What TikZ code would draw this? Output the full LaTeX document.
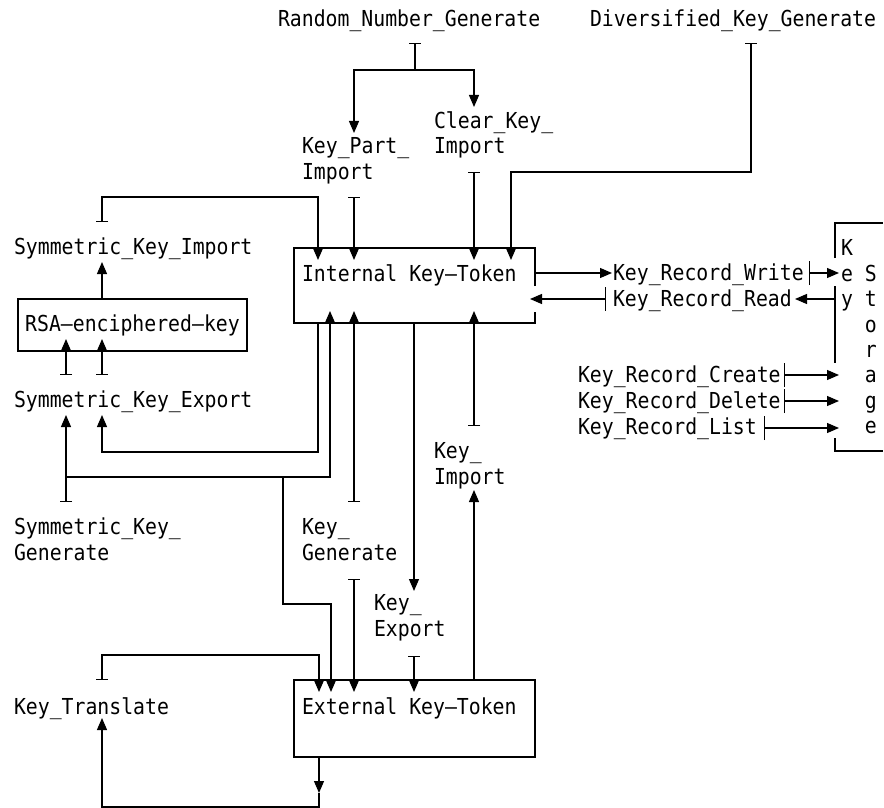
\documentclass[tikz,border=0pt]{standalone}
\usepackage{fontspec}
\setmonofont[FakeStretch=0.9]{DejaVu Sans Mono}
\usetikzlibrary{arrows.meta}

\tikzset{
  every node/.style={inner sep=0pt, outer sep=0pt,
    font=\ttfamily\fontsize{11pt}{12.7pt}\selectfont},
  lbl/.style={anchor=base west, align=left},
  tokenbox/.style={anchor=north west, inner xsep=4pt, text width=112.5pt, align=left},
  rsabox/.style={draw, minimum width=114.5pt, minimum height=26pt},
  vtick/.style={{Bar[width=6pt]}->},
  htick/.style={{Bar[width=12pt]}->},
  into/.style={shorten >=-6pt},
}

\begin{document}
\begin{tikzpicture}[x=.5pt, y=-.5pt, line width=.6pt, >={Triangle[width=5pt,length=6pt]}]
  \useasboundingbox (0,0) rectangle (884,808);
  \clip (0,0) rectangle (884,808);

  % -- services (two-line labels sit on their last line)
  \node[lbl] (rng) at (278,27) {Random\_Number\_Generate};
  \node[lbl] (dkg) at (590,27) {Diversified\_Key\_Generate};
  \node[lbl] (kpi) at (302,179) {Key\_Part\_\\Import};
  \node[lbl] (cki) at (434,154) {Clear\_Key\_\\Import};
  \node[lbl] (ski) at (14,255) {Symmetric\_Key\_Import};
  \node[lbl] (ske) at (14,407) {Symmetric\_Key\_Export};
  \node[lbl] (skg) at (14,560) {Symmetric\_Key\_\\Generate};
  \node[lbl] (kg) at (302,560) {Key\_\\Generate};
  \node[lbl] (ki) at (434,484) {Key\_\\Import};
  \node[lbl] (kx) at (374,636) {Key\_\\Export};
  \node[lbl] (kt) at (14,714) {Key\_Translate};
  \node[lbl] (krw) at (613,280) {Key\_Record\_Write};
  \node[lbl] (krr) at (613,306) {Key\_Record\_Read};
  \node[lbl] (krc) at (578,382) {Key\_Record\_Create};
  \node[lbl] (krd) at (578,408) {Key\_Record\_Delete};
  \node[lbl] (krl) at (578,434) {Key\_Record\_List};

  % -- tokens
  \node[tokenbox, text height=16.5pt, text depth=21pt] (internal) at (294,248) {Internal\hphantom{x}Key–Token};
  \node[tokenbox, draw, text height=17pt, text depth=21.5pt] (external) at (294,680) {External\hphantom{x}Key–Token};
  \node[rsabox] (rsa) at (132.5,325) {RSA–enciphered–key};
  \node[anchor=north west, inner xsep=3pt, text height=16.5pt, text depth=97.5pt] (storage) at (835,223)
    {\begin{tabular}[t]{@{}l@{\hphantom{x}}l@{}}K&\\e&S\\y&t\\&o\\&r\\&a\\&g\\&e\end{tabular}};

  \draw ([yshift=-19pt]internal.north east) -- (internal.north east) -- (internal.north west)
      -- (internal.south west) -- (internal.south east) -- ([yshift=5.5pt]internal.south east);
  \draw ([yshift=-17.5pt]storage.north west) -- (storage.north west) -- (storage.north east);
  \draw ([yshift=-31.5pt]storage.north west) -- ([yshift=-70pt]storage.north west);
  \draw ([yshift=6.5pt]storage.south west) -- (storage.south west) -- (storage.south east);

  % -- ports
  \foreach \n/\x/\y in {rng-bar/415/43, rng-fork/415/70, kpi-in/354/133, cki-in/474/107,
      dkg-bar/751/43, dkg-bend/511/172, kpi-bar/354/197, cki-bar/474/172,
      ski-bar/102/222, ski-bend/318/197, ski-in/102/262,
      ske-barA/66/375, ske-barB/102/375, ske-inA/66/415, ske-inB/102/415, ske-loop/102/452,
      skg-bar/66/502, skg-fork/66/477, skg-up/330/477, skg-fork2/283/477, skg-down/331/604,
      kg-barU/354/502, kg-barD/354/579, kx-in/414/591, kx-bar/414/656,
      ki-bar/474/426, ki-in/474/490,
      kt-bar/102/680, kt-bend/319/655, kt-drop/319/793, kt-loop/102/807, kt-in/102/718,
      krw-in/612/273, krw-bar/809/273, krr-in/795/299, krr-bar/606/299,
      krc-bar/784/375, krd-bar/784/401, krl-bar/764/428}
    \coordinate (\n) at (\x,\y);

  % -- connectors
  \draw[vtick] (rng-bar) -- (rng-fork) -| (kpi-in);
  \draw[->] (rng-fork) -| (cki-in);
  \draw[vtick, into] (dkg-bar) |- (dkg-bend) -- (internal.north -| dkg-bend);
  \draw[vtick, into] (kpi-bar) -- (internal.north -| kpi-bar);
  \draw[vtick, into] (cki-bar) -- (internal.north -| cki-bar);
  \draw[vtick, into] (ski-bar) |- (ski-bend) -- (internal.north -| ski-bend);

  \draw[->] (rsa.north -| ski-in) -- (ski-in);
  \draw[vtick, into] (ske-barA) -- (rsa.south -| ske-barA);
  \draw[vtick, into] (ske-barB) -- (rsa.south -| ske-barB);
  \draw[->] (internal.south -| ski-bend) |- (ske-loop) -- (ske-inB);

  \draw[vtick] (skg-bar) -- (ske-inA);
  \draw[->, into] (skg-fork) -| (internal.south -| skg-up);
  \draw[->, into] (skg-fork2) |- (skg-down) -- (external.north -| skg-down);

  \draw[vtick, into] (kg-barU) -- (internal.south -| kg-barU);
  \draw[vtick, into] (kg-barD) -- (external.north -| kg-barD);
  \draw[->] (internal.south -| kx-in) -- (kx-in);
  \draw[vtick, into] (kx-bar) -- (external.north -| kx-bar);
  \draw[vtick, into] (ki-bar) -- (internal.south -| ki-bar);
  \draw[->] (external.north -| ki-in) -- (ki-in);

  \draw[vtick, into] (kt-bar) |- (kt-bend) -- (external.north -| kt-bend);
  \draw[->] (external.south -| kt-drop) -- (kt-drop);
  \draw[->] (kt-drop) |- (kt-loop) -- (kt-in);

  \draw[->] (internal.east |- krw-in) -- (krw-in);
  \draw[htick, shorten >=-2pt] (krw-bar) -- (storage.west |- krw-bar);
  \draw[->] (storage.west |- krr-in) -- (krr-in);
  \draw[htick, shorten >=-2.5pt] (krr-bar) -- (internal.east |- krr-bar);
  \foreach \n in {krc, krd, krl}
    \draw[htick, shorten >=-2pt] (\n-bar) -- (storage.west |- \n-bar);

\end{tikzpicture}
\end{document}
